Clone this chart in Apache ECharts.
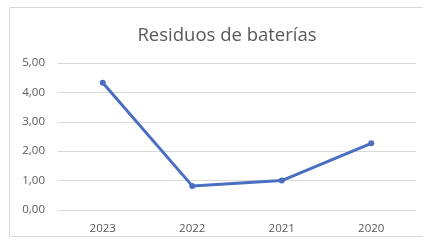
<!DOCTYPE html>
<html>
<head>
<meta charset="utf-8">
<script src="https://cdn.jsdelivr.net/npm/echarts@6/dist/echarts.min.js"></script>
<style>
  html, body { margin: 0; padding: 0; background: #fff; }
  #main { width: 423px; height: 243px; }
</style>
</head>
<body>
<div id="main"></div>
<script>
var years = ['2023', '2022', '2021', '2020'];
var residuos = [4.33, 0.82, 1.0, 2.27];

var myChart = echarts.init(document.getElementById('main'));
myChart.setOption({
  animation: false,
  title: {
    text: 'Residuos de baterías',
    left: 222,
    textAlign: 'center',
    top: 21,
    textStyle: { fontFamily: 'Open Sans', fontSize: 18.5, fontWeight: 'normal', color: '#595959' }
  },
  graphic: [{
    type: 'rect',
    shape: { x: 9.5, y: 7.5, width: 420, height: 229 },
    style: { fill: 'none', stroke: '#d9d9d9', lineWidth: 1 },
    silent: true
  }],
  grid: { left: 58, right: 7, top: 63, bottom: 33 },
  xAxis: {
    type: 'category',
    data: years,
    axisLine: { show: false },
    axisTick: { show: false },
    axisLabel: { fontFamily: 'Open Sans', fontSize: 11.5, color: '#595959', margin: 13 }
  },
  yAxis: {
    type: 'value',
    min: 0,
    max: 5,
    interval: 1,
    axisLabel: {
      fontFamily: 'Open Sans', fontSize: 11.5, color: '#595959', margin: 13,
      formatter: function (v) { return v.toFixed(2).replace('.', ','); }
    },
    splitLine: { lineStyle: { color: '#d9d9d9', width: 1 } }
  },
  series: [{
    name: 'Residuos de baterías',
    type: 'line',
    data: residuos,
    symbol: 'circle',
    symbolSize: 6,
    lineStyle: { color: '#4a6fc0', width: 3 },
    itemStyle: { color: '#4a6fc0' }
  }]
});
</script>
</body>
</html>
